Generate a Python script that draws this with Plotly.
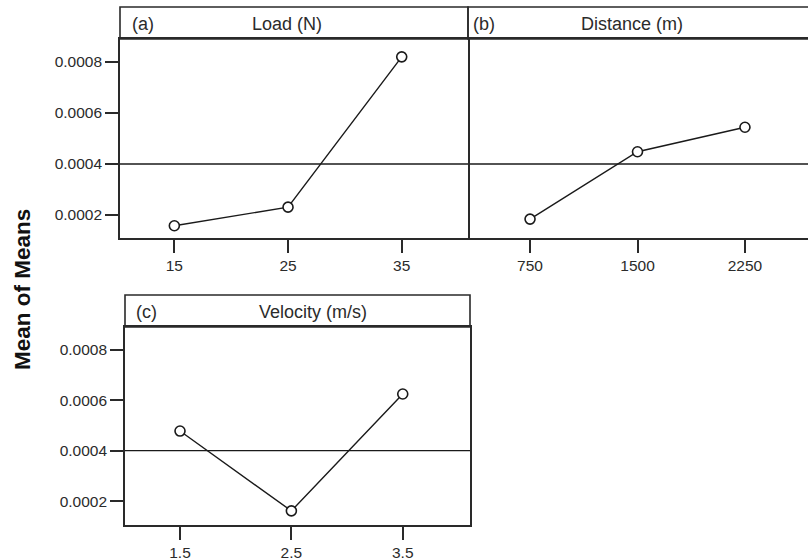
import plotly.graph_objects as go

# ---- data ----
load_levels = [15, 25, 35]
load_means = [0.000158, 0.000231, 0.000820]
dist_levels = [750, 1500, 2250]
dist_means = [0.000184, 0.000448, 0.000544]
vel_levels = [1.5, 2.5, 3.5]
vel_means = [0.000478, 0.000161, 0.000625]
grand_mean = 0.0004
y_ticks = [0.0002, 0.0004, 0.0006, 0.0008]
y_tick_text = ["0.0002", "0.0004", "0.0006", "0.0008"]
panel_titles = ["Load (N)", "Distance (m)", "Velocity (m/s)"]
panel_tags = ["(a)", "(b)", "(c)"]

W, H = 808, 560
def px(x):
    return x / W
def py(y):
    return 1 - y / H

LINE = "#2a2a2a"
TXT = "#2b2b2b"
FONT = "Liberation Sans, Arial, sans-serif"

fig = go.Figure()
series = [(load_levels, load_means, "x", "y"),
          (dist_levels, dist_means, "x2", "y2"),
          (vel_levels, vel_means, "x3", "y3")]
for xs, ys, xa, ya in series:
    fig.add_trace(go.Scatter(
        x=xs, y=ys, xaxis=xa, yaxis=ya, mode="lines+markers",
        line=dict(color="#1a1a1a", width=1.4),
        marker=dict(symbol="circle", size=10, color="white",
                    line=dict(color="#1a1a1a", width=1.6)),
        showlegend=False, cliponaxis=False))

def xax(domain, rng, ticks, anchor):
    return dict(domain=domain, range=rng, tickvals=ticks, anchor=anchor,
                ticktext=[str(t) for t in ticks],
                showline=True, linecolor=LINE, linewidth=1.6, mirror=True,
                ticks="outside", ticklen=13, tickwidth=1.6, tickcolor=LINE,
                showgrid=False, zeroline=False,
                tickfont=dict(family=FONT, size=15.5, color=TXT), fixedrange=True)

def yax(domain, rng, anchor, labels=True, line=True):
    return dict(domain=domain, range=rng, tickvals=y_ticks, ticktext=y_tick_text,
                anchor=anchor,
                showline=line, linecolor=LINE, linewidth=1.6, mirror=True,
                ticks="outside" if labels else "", ticklen=13, tickwidth=1.6,
                tickcolor=LINE, showticklabels=labels,
                showgrid=False, zeroline=False,
                tickfont=dict(family=FONT, size=15.5, color=TXT), fixedrange=True)

fig.update_layout(
    width=W, height=H, margin=dict(l=0, r=0, t=0, b=0),
    paper_bgcolor="white", plot_bgcolor="white",
    xaxis=xax([px(120), px(468)], [10.22, 40.83], load_levels, "y"),
    yaxis=yax([py(238), py(39)], [0.00011, 0.00089], "x"),
    xaxis2=xax([px(468), 1.0], [317, 2690], dist_levels, "y2"),
    yaxis2=yax([py(238), py(39)], [0.00011, 0.00089], "x2", labels=False, line=False),
    xaxis3=xax([px(125), px(470)], [1.006, 4.104], vel_levels, "y3"),
    yaxis3=yax([py(525), py(327)], [0.000105, 0.000891], "x3"),
)

shapes = []
# grand mean reference lines
for xa, ya in [("x", "y"), ("x2", "y2"), ("x3", "y3")]:
    shapes.append(dict(type="line", xref=f"{xa} domain", yref=ya, x0=0, x1=1,
                       y0=grand_mean, y1=grand_mean,
                       line=dict(color="#1a1a1a", width=1.3), layer="below"))
# header boxes
for (x0, x1, y0, y1) in [(120, 468, 7, 39), (468, 830, 7, 39), (125, 470, 295, 327)]:
    shapes.append(dict(type="rect", xref="paper", yref="paper",
                       x0=px(x0), x1=px(x1), y0=py(y1), y1=py(y0),
                       line=dict(color=LINE, width=1.6), fillcolor="rgba(0,0,0,0)"))
fig.update_layout(shapes=shapes)

ann = []
for title, tag, cx, tx, cy in [(panel_titles[0], panel_tags[0], 287, 143, 24),
                               (panel_titles[1], panel_tags[1], 632, 484, 24),
                               (panel_titles[2], panel_tags[2], 313, 146, 312)]:
    ann.append(dict(text=title, xref="paper", yref="paper", x=px(cx), y=py(cy),
                    showarrow=False, xanchor="center", yanchor="middle",
                    font=dict(family=FONT, size=18, color=TXT)))
    ann.append(dict(text=tag, xref="paper", yref="paper", x=px(tx), y=py(cy),
                    showarrow=False, xanchor="center", yanchor="middle",
                    font=dict(family=FONT, size=18, color=TXT)))
ann.append(dict(text="<b>Mean of Means</b>", xref="paper", yref="paper",
                x=px(22), y=py(290), textangle=-90, showarrow=False,
                xanchor="center", yanchor="middle",
                font=dict(family=FONT, size=22.5, color="#111111")))
fig.update_layout(annotations=ann)

fig.write_html("out.html", config={"displayModeBar": False},
               post_script="document.body.style.margin='0';")
